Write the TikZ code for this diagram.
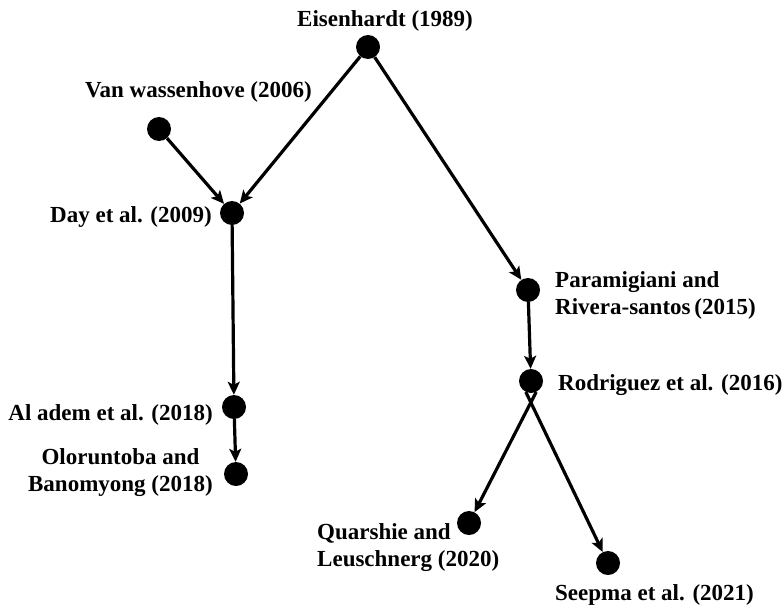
\documentclass[tikz,border=0pt]{standalone}
\usepackage{fontspec}
\setmainfont{Liberation Serif}
\usetikzlibrary{arrows.meta}

\begin{document}
\begin{tikzpicture}[
  x=1pt, y=-1pt,
  dot/.style={circle, fill=black, minimum size=24pt, inner sep=0pt},
  link/.style={line width=3.2pt, -{Stealth[length=13pt, width=12pt, inset=3pt]}},
  ref/.style={inner sep=0pt, font=\fontsize{23}{27}\selectfont\bfseries},
]
\useasboundingbox (0,0) rectangle (783,610);

% dots
\node[dot] (eis) at (368, 47) {};
\node[dot] (van) at (159, 129) {};
\node[dot] (day) at (232, 213) {};
\node[dot] (par) at (528, 290) {};
\node[dot] (rod) at (531, 381) {};
\node[dot] (ala) at (234, 407) {};
\node[dot] (olo) at (236, 474) {};
\node[dot] (qua) at (469, 523) {};
\node[dot] (see) at (608, 563) {};

% labels
\node[ref, anchor=base west] (eisl) at (297, 27) {Eisenhardt (1989)};
\node[ref, anchor=base west] (vanl) at (85, 97) {Van wassenhove (2006)};
\node[ref, anchor=base east] (dayl) at (212, 222) {Day et al. (2009)};
\node[ref, anchor=north west, align=left] (parl) at (555, 271)
  {Paramigiani and\\Rivera-santos\,(2015)};
\node[ref, anchor=base west] (rodl) at (558, 390) {Rodriguez et al. (2016)};
\node[ref, anchor=base east] (alal) at (213, 420) {Al adem et al. (2018)};
\node[ref, anchor=north east, align=center] (olol) at (213, 448)
  {Oloruntoba and\\Banomyong (2018)};
\node[ref, anchor=north west, align=left] (qual) at (317, 523)
  {Quarshie and\\Leuschnerg (2020)};
\node[ref, anchor=base west] (seel) at (555, 600) {Seepma et al. (2021)};

% links
\draw[link] (eis) -- (day);
\draw[link] (van) -- (day);
\draw[link] (eis) -- (par);
\draw[link] (day) -- (ala);
\draw[link] (ala) -- (olo);
\draw[link] (par) -- (rod);
\draw[link] (rod.-65) -- (qua);
\draw[link] (rod.-115) -- (see);

\end{tikzpicture}
\end{document}
